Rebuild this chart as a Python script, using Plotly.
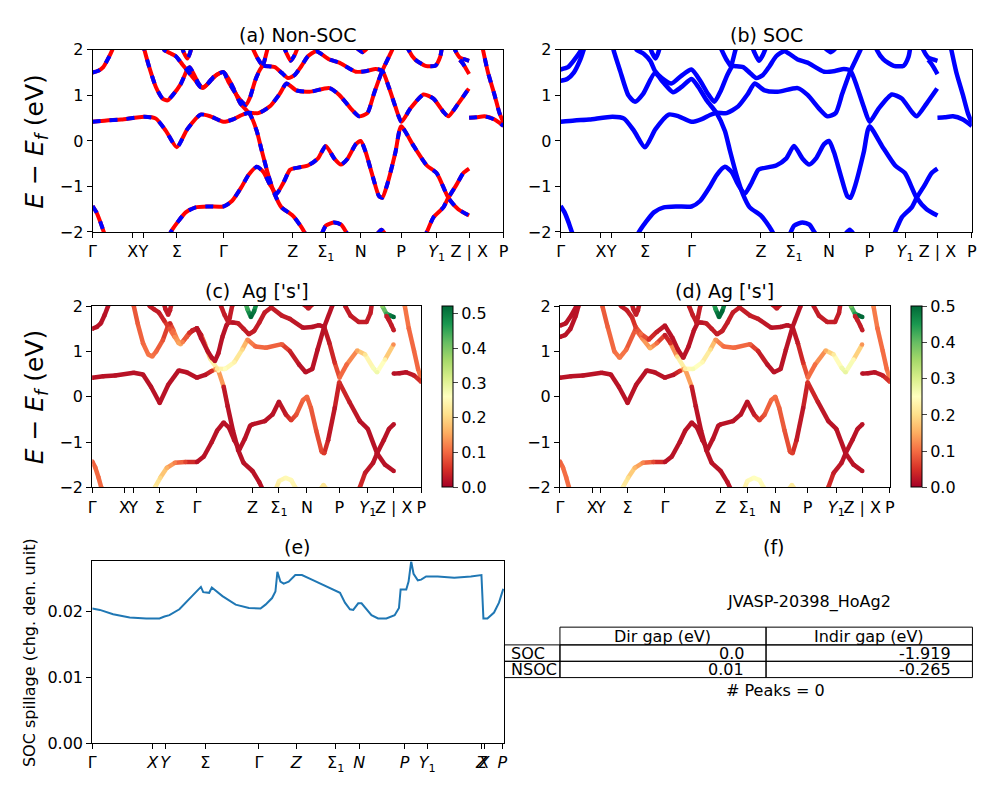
import plotly.graph_objs as go
from plotly.colors import diverging, make_colorscale, sample_colorscale

FONT = "DejaVu Sans"

# k-path position (in % of the path) of the high-symmetry points
kpath_ticks = [0, 9.8, 12.4, 20.5, 31.83, 48.71, 56.75, 65.27, 75.08, 83.76, 91.64, 100]
kpath_labels = ["Γ", "X", "Y", "Σ", "Γ", "Z", "Σ<sub>1</sub>", "N", "P",
                "<i>Y</i><sub>1</sub>", "Z | X", "P"]

# ---- bands (k, E-Ef in eV, Ag-s weight) ----
k_c1 = [0, 1.4, 2.6, 3.8, 4.8, 5.4]
e_c1 = [1.50, 1.54, 1.62, 1.81, 2.00, 2.15]
w_c1 = [0.02, 0.02, 0.02, 0.02, 0.02, 0.02]

k_c1a = [0, 1.8, 3.4, 5.0, 5.5]
e_c1a = [1.57, 1.62, 1.79, 2.00, 2.12]
w_c1a = [0.02, 0.02, 0.02, 0.02, 0.02]

k_c1b = [0, 1.6, 3.2, 4.8, 5.6, 6.0]
e_c1b = [1.32, 1.36, 1.50, 1.79, 2.00, 2.12]
w_c1b = [0.02, 0.02, 0.02, 0.02, 0.02, 0.02]

k_c2 = [12.2, 12.62, 13.83, 15.43, 17.04, 18.25, 19.45, 21.46, 23.07, 23.63, 24.68, 25.88, 26.85, 28.70,
        30.31, 31.83, 33.12, 34.32, 35.93, 38.34, 39.95, 41.16, 42.77, 44.37, 45.98, 48.71, 50.80, 51.77]
e_c2 = [2.15, 2.0, 1.61, 1.18, 0.93, 0.89, 1.0, 1.25, 1.57, 1.62, 1.46, 1.25, 1.16, 1.32,
        1.46, 1.51, 1.36, 1.15, 0.83, 0.58, 0.22, -0.21, -0.75, -1.18, -1.46, -1.64, -1.89, -2.04]
w_c2 = [0.08, 0.08, 0.09, 0.10, 0.11, 0.11, 0.10, 0.08, 0.05, 0.04, 0.10, 0.14, 0.15, 0.08,
        0.03, 0.02, 0.03, 0.14, 0.22, 0.25, 0.03, 0.02, 0.02, 0.02, 0.02, 0.02, 0.02, 0.02]

k_c2s = [12.46, 12.86, 14.47, 16.48, 18.09, 20.10, 22.91, 24.92, 27.33, 29.34, 31.83, 33.52, 35.53,
         37.94, 39.95, 41.16, 42.77, 44.37, 45.98, 48.71, 50.80, 51.77]
e_c2s = [2.18, 2.0, 1.54, 1.0, 0.86, 1.04, 1.49, 1.29, 1.07, 1.18, 1.36, 1.18, 0.89,
         0.61, 0.22, -0.21, -0.75, -1.18, -1.46, -1.64, -1.89, -2.04]
w_c2s = [0.08, 0.08, 0.09, 0.10, 0.11, 0.10, 0.07, 0.12, 0.15, 0.10, 0.03, 0.05, 0.20,
         0.25, 0.03, 0.02, 0.02, 0.02, 0.02, 0.02, 0.02, 0.02]

k_c3 = [17.04, 17.44, 18.81, 20.26, 21.86, 23.47, 25.08, 26.29, 27.49, 29.50, 31.83, 33.12, 35.13, 36.33,
        37.30, 38.34, 39.55, 40.76, 41.40, 42.77, 44.37, 45.98, 47.59, 49.20, 50.80, 52.41, 54.42, 57.64,
        60.05, 64.07, 66.88, 68.89, 70.50, 72.11, 73.71, 75.16, 77.33, 80.55, 82.96, 85.37, 86.58, 88.99, 91.56]
e_c3 = [2.11, 2.0, 1.93, 1.86, 1.68, 1.5, 1.32, 1.18, 1.21, 1.41, 1.51, 1.29, 1.0, 0.86,
        0.79, 0.96, 1.32, 1.57, 1.64, 1.64, 1.62, 1.5, 1.38, 1.45, 1.64, 1.86, 1.97, 1.79,
        1.72, 1.52, 1.54, 1.58, 1.54, 1.18, 0.75, 0.42, 0.71, 1.02, 0.93, 0.64, 0.54, 0.82, 1.15]
w_c3 = [0.03, 0.03, 0.03, 0.03, 0.04, 0.08, 0.13, 0.15, 0.12, 0.05, 0.02, 0.02, 0.02, 0.02,
        0.02, 0.02, 0.02, 0.02, 0.02, 0.02, 0.03, 0.03, 0.03, 0.03, 0.03, 0.03, 0.03, 0.03,
        0.03, 0.02, 0.02, 0.02, 0.02, 0.03, 0.05, 0.10, 0.10, 0.15, 0.22, 0.27, 0.28, 0.24, 0.13]

# SOC: the Sigma-Gamma part of this band splits, the rest follows the band above
k_c3s_head = [17.85, 18.49, 20.26, 21.86, 22.91, 24.52, 26.93, 29.34, 31.83, 34.16, 35.77, 37.38, 38.99, 40.59, 41.80]
e_c3s_head = [2.11, 2.0, 1.91, 1.75, 1.54, 1.39, 1.26, 1.43, 1.57, 1.29, 1.04, 0.86, 1.11, 1.46, 1.64]
w_c3s_head = [0.03, 0.03, 0.03, 0.04, 0.06, 0.10, 0.05, 0.03, 0.02, 0.02, 0.02, 0.02, 0.02, 0.02, 0.02]

k_l1 = [0, 3.38, 6.99, 12.62, 15.43, 17.85, 20.50, 23.07, 26.29, 28.70, 31.83, 34.32, 36.33, 37.94, 40.35,
        43.17, 45.58, 47.19, 49.60, 52.81, 57.64, 60.05, 62.86, 64.87, 66.88, 68.49, 70.50, 72.91, 73.71]
e_l1 = [0.42, 0.45, 0.47, 0.53, 0.49, 0.22, -0.14, 0.26, 0.58, 0.54, 0.42, 0.48, 0.57, 0.62, 0.61,
        0.76, 1.04, 1.26, 1.11, 1.08, 1.16, 1.01, 0.71, 0.54, 0.61, 1.04, 1.54, 2.0, 2.21]
w_l1 = [0.02, 0.02, 0.02, 0.02, 0.02, 0.02, 0.02, 0.02, 0.02, 0.02, 0.02, 0.02, 0.05, 0.22, 0.26,
        0.24, 0.20, 0.13, 0.10, 0.10, 0.09, 0.04, 0.02, 0.02, 0.02, 0.02, 0.02, 0.02, 0.02]

k_j = [18.49, 19.05, 20.66, 22.67, 25.08, 28.30, 31.83, 33.92, 36.33, 37.94, 39.95, 41.56, 43.17, 44.77,
       46.38, 47.99, 48.71, 52.41, 54.82, 56.75, 58.84, 60.45, 62.06, 64.07, 65.27, 66.48, 68.09, 69.69,
       70.50, 71.70, 73.71, 75.08, 78.14, 81.35, 83.76, 86.58, 88.99, 91.64]
e_j = [-2.11, -2.0, -1.79, -1.57, -1.46, -1.44, -1.44, -1.32, -1.0, -0.75, -0.57, -0.68, -0.96, -1.16,
       -0.93, -0.64, -0.61, -0.54, -0.39, -0.11, -0.39, -0.52, -0.39, -0.07, 0.0, -0.25, -0.75, -1.21,
       -1.25, -0.96, -0.25, 0.32, -0.11, -0.54, -0.71, -1.25, -1.5, -1.64]
w_j = [0.24, 0.23, 0.20, 0.16, 0.12, 0.07, 0.02, 0.02, 0.02, 0.02, 0.02, 0.02, 0.02, 0.02,
       0.02, 0.02, 0.02, 0.02, 0.02, 0.02, 0.03, 0.06, 0.08, 0.10, 0.10, 0.09, 0.08, 0.07,
       0.06, 0.03, 0.02, 0.05, 0.03, 0.02, 0.02, 0.02, 0.02, 0.02]

k_m = [0, 0.96, 1.93, 2.73, 3.38]
e_m = [-1.43, -1.57, -1.79, -2.0, -2.14]
w_m = [0.09, 0.10, 0.10, 0.10, 0.10]

k_n = [55.8, 56.8, 58.8, 60.5, 61.7, 62.5]
e_n = [-2.04, -1.86, -1.79, -1.84, -2.0, -2.11]
w_n = [0.22, 0.24, 0.25, 0.25, 0.24, 0.22]

k_o = [69.3, 70.3, 71.2]
e_o = [-2.04, -1.95, -2.04]
w_o = [0.22, 0.22, 0.22]

k_l = [80.55, 81.35, 82.96, 85.37, 86.58, 88.59, 90.19, 91.64]
e_l = [-2.14, -2.0, -1.68, -1.46, -1.25, -0.96, -0.71, -0.61]
w_l = [0.06, 0.05, 0.03, 0.02, 0.02, 0.02, 0.02, 0.02]

k_c4 = [21.54, 22.27, 23.07, 23.63, 24.28]
e_c4 = [2.11, 1.93, 1.81, 1.91, 2.11]
w_c4 = [0.03, 0.03, 0.03, 0.03, 0.03]

k_c5 = [46.38, 47.19, 48.23, 49.20, 50.16]
e_c5 = [2.11, 1.93, 1.76, 1.89, 2.11]
w_c5 = [0.42, 0.45, 0.52, 0.50, 0.45]

k_t1 = [38.34, 39.15, 40.19, 41.40]
e_t1 = [2.18, 2.0, 1.81, 1.64]
w_t1 = [0.03, 0.03, 0.03, 0.03]

k_t2 = [43.17, 42.52, 41.8, 41.4]
e_t2 = [2.18, 2.0, 1.75, 1.64]
w_t2 = [0.03, 0.03, 0.03, 0.03]

k_ntop = [64.3, 65.7, 66.9]
e_ntop = [2.04, 1.95, 2.04]
w_ntop = [0.03, 0.03, 0.03]

k_u = [76.5, 76.9, 78.5, 81.0, 83.4, 84.6, 85.1]
e_u = [2.11, 2.0, 1.79, 1.65, 1.65, 1.85, 2.1]
w_u = [0.03, 0.03, 0.03, 0.03, 0.03, 0.03, 0.03]

k_d = [87.8, 88.2, 89.4, 90.6, 91.64]
e_d = [2.1, 2.0, 1.83, 1.79, 1.76]
w_d = [0.30, 0.38, 0.45, 0.50, 0.52]

k_e = [89.4, 90.2, 91.0, 91.64]
e_e = [1.78, 1.69, 1.57, 1.47]
w_e = [0.03, 0.03, 0.03, 0.03]

k_f = [94.61, 95.02, 96.22, 97.83, 99.04, 100]
e_f = [2.18, 2.0, 1.51, 1.01, 0.61, 0.40]
w_f = [0.12, 0.12, 0.10, 0.10, 0.10, 0.12]

k_g = [91.64, 93.41, 95.42, 97.83, 100]
e_g = [0.51, 0.52, 0.54, 0.47, 0.33]
w_g = [0.02, 0.02, 0.02, 0.03, 0.06]

# ---- SOC spillage ----
spill_ticks = [0, 14.72, 17.7, 27.43, 40.47, 49.56, 59.13, 64.84, 75.86, 81.34, 94.53, 95.17, 99.6]
spill_labels = ["Γ", "<i>X</i>", "<i>Y</i>", "Σ", "Γ", "<i>Z</i>", "Σ<sub>1</sub>", "<i>N</i>", "<i>P</i>",
                "<i>Y</i><sub>1</sub>", "<i>Z</i>", "<i>X</i>", "<i>P</i>"]
k_spill = [0, 1.85, 5.07, 9.09, 13.11, 16.33, 17.54, 18.74, 21.16, 23.57, 25.99, 26.39, 26.95, 27.59,
           28.4, 29.04, 31.62, 34.83, 38.05, 40.87, 42.08, 43.68, 44.49, 44.97, 45.70, 46.5, 47.71,
           49.32, 50.93, 53.34, 56.56, 59.37, 60.18, 61.38, 62.59, 63.39, 64.6, 65.41, 66.61, 67.82,
           69.43, 71.44, 73.45, 74.5, 74.9, 76.27, 76.83, 77.47, 78.04, 79.08, 79.89, 81.09, 83.91,
           87.93, 91.96, 94.53, 95.01, 95.98, 97.59, 98.79, 99.84]
spillage = [0.0205, 0.0203, 0.01965, 0.01916, 0.0190, 0.0190, 0.0193, 0.0195, 0.0204, 0.0219, 0.0234,
            0.0238, 0.0230, 0.0230, 0.0229, 0.0237, 0.0224, 0.0211, 0.0206, 0.0205, 0.0211, 0.0221,
            0.0231, 0.0261, 0.0246, 0.0243, 0.0246, 0.0256, 0.0256, 0.0249, 0.0240, 0.0231, 0.0229,
            0.0214, 0.0204, 0.0203, 0.0213, 0.0213, 0.0204, 0.0195, 0.0190, 0.0190, 0.0195, 0.0206,
            0.0234, 0.0234, 0.0246, 0.02767, 0.0258, 0.0248, 0.0249, 0.0254, 0.0254, 0.0252, 0.0254,
            0.0256, 0.0190, 0.0190, 0.0199, 0.0214, 0.0235]

# ---- gap table ----
material = "JVASP-20398_HoAg2"
gap_cols = ["Dir gap (eV)", "Indir gap (eV)"]
gap_rows = ["SOC", "NSOC"]
dir_gap = ["0.0", "0.01"]
indir_gap = ["-1.919", "-0.265"]
n_peaks = 0

common = [(k_l1, e_l1, w_l1), (k_j, e_j, w_j), (k_m, e_m, w_m), (k_n, e_n, w_n), (k_o, e_o, w_o),
          (k_l, e_l, w_l), (k_c4, e_c4, w_c4), (k_c5, e_c5, w_c5), (k_t1, e_t1, w_t1),
          (k_t2, e_t2, w_t2), (k_ntop, e_ntop, w_ntop), (k_u, e_u, w_u), (k_d, e_d, w_d),
          (k_e, e_e, w_e), (k_f, e_f, w_f), (k_g, e_g, w_g)]
nsoc_bands = [(k_c1, e_c1, w_c1), (k_c2, e_c2, w_c2), (k_c3, e_c3, w_c3)] + common
soc_bands = [(k_c1a, e_c1a, w_c1a), (k_c1b, e_c1b, w_c1b), (k_c2s, e_c2s, w_c2s),
             (k_c3s_head + k_c3[19:], e_c3s_head + e_c3[19:], w_c3s_head + w_c3[19:])] + common

rdylgn = make_colorscale(diverging.RdYlGn)

fig = go.Figure()

# (a) non-SOC: red solid with blue dashes on top
for k, e, w in nsoc_bands:
    fig.add_trace(go.Scatter(x=k, y=e, mode="lines", xaxis="x", yaxis="y", hoverinfo="skip",
                             line=dict(color="red", width=4, shape="spline", smoothing=0.6)))
for k, e, w in nsoc_bands:
    fig.add_trace(go.Scatter(x=k, y=e, mode="lines", xaxis="x", yaxis="y", hoverinfo="skip",
                             line=dict(color="blue", width=4, dash="8px,9px", shape="spline", smoothing=0.6)))

# (b) SOC
for k, e, w in soc_bands:
    fig.add_trace(go.Scatter(x=k, y=e, mode="lines", xaxis="x2", yaxis="y2", hoverinfo="skip",
                             line=dict(color="blue", width=4.5, shape="spline", smoothing=0.6)))


def projected(bands, cmax, xa, ya, cax):
    for k, e, w in bands:
        for i in range(len(k) - 1):
            c = sample_colorscale(rdylgn, [min((w[i] + w[i + 1]) / 2 / cmax, 1.0)])[0]
            fig.add_trace(go.Scatter(x=k[i:i + 2], y=e[i:i + 2], mode="lines", xaxis=xa, yaxis=ya,
                                     hoverinfo="skip", line=dict(color=c, width=4.5)))
        fig.add_trace(go.Scatter(x=k, y=e, mode="markers", xaxis=xa, yaxis=ya,
                                 marker=dict(size=4.5, color=w, coloraxis=cax)))


projected(nsoc_bands, 0.52, "x3", "y3", "coloraxis")
projected(soc_bands, 0.5, "x4", "y4", "coloraxis2")

# (e) spillage
fig.add_trace(go.Scatter(x=k_spill, y=spillage, mode="lines", xaxis="x5", yaxis="y5",
                         line=dict(color="#1f77b4", width=2)))

# the page body keeps an 8px margin, so the figure is 16px smaller than the window
# and every position below is given in window pixels
W, H, OFF = 984, 784, 8


def px(v):
    return (v - OFF) / W


def py(v):
    return 1 - (v - OFF) / H


tickfont = dict(family=FONT, size=16, color="black")
base = dict(showline=True, mirror=True, linecolor="black", linewidth=1, ticks="outside",
            ticklen=5, tickwidth=1, tickcolor="black", showgrid=False, zeroline=False,
            tickfont=tickfont)


def kaxis(x0, x1, anchor):
    return dict(base, domain=[px(x0), px(x1)], range=[0, 100], tickmode="array",
                tickvals=kpath_ticks, ticktext=kpath_labels, tickangle=0, anchor=anchor)


def eaxis(y0, y1, anchor):
    return dict(base, domain=[py(y1), py(y0)], range=[-2, 2], tickmode="array",
                tickvals=[-2, -1, 0, 1, 2], anchor=anchor)


def cbar(x0):
    return dict(x=px(x0), xanchor="left", y=py(490), yanchor="bottom", len=186 / H,
                lenmode="fraction", thickness=11, thicknessmode="pixels", outlinewidth=1,
                outlinecolor="black", ticks="outside", ticklen=5, tickwidth=1,
                tickvals=[0, 0.1, 0.2, 0.3, 0.4, 0.5], tickformat=".1f", tickfont=tickfont,
                xpad=0, ypad=0)


annotations = []


def text(s, x, y, size=16, xanchor="center", **kw):
    annotations.append(dict(text=s, x=px(x), y=py(y), xref="paper", yref="paper", showarrow=False,
                            xanchor=xanchor, yanchor="middle", borderpad=0,
                            font=dict(family=FONT, size=size, color="black"), **kw))


text("(a) Non-SOC", 296.6, 26, 19)
text("(b) SOC", 769, 26, 19)
text("(c) \u00a0Ag ['s']", 255, 289, 19)
text("(d) Ag ['s']", 727.5, 289, 19)
text("(e)", 296, 551, 19)
text("(f)", 777, 551, 19)
ylab = "<i>E</i> − <i>E</i><sub><i>f</i></sub> (eV)"
text(ylab, 32, 135, 25, textangle=-90)
text(ylab, 32, 397, 25, textangle=-90)
text("SOC spillage (chg. den. unit)", 25, 659, 16, textangle=-90)

# table
text(material, 812, 608, 16)
text("# Peaks = %d" % n_peaks, 779, 698, 16)
col_x = [561, 769, 977.3]
row_y = [633.3, 651.5, 668.3, 685]
shapes = []
for c in range(2):
    shapes.append(dict(type="rect", xref="paper", yref="paper", x0=px(col_x[c]), x1=px(col_x[c + 1]),
                       y0=py(row_y[1]), y1=py(row_y[0]), line=dict(color="black", width=1)))
    text(gap_cols[c], (col_x[c] + col_x[c + 1]) / 2, (row_y[0] + row_y[1]) / 2, 16)
values = [dir_gap, indir_gap]
for r in range(2):
    y0, y1 = row_y[r + 1], row_y[r + 2]
    shapes.append(dict(type="rect", xref="paper", yref="paper", x0=px(505), x1=px(561),
                       y0=py(y1), y1=py(y0), line=dict(color="black", width=1)))
    text(gap_rows[r], 510.6, (y0 + y1) / 2, 16, xanchor="left")
    for c in range(2):
        shapes.append(dict(type="rect", xref="paper", yref="paper", x0=px(col_x[c]), x1=px(col_x[c + 1]),
                           y0=py(y1), y1=py(y0), line=dict(color="black", width=1)))
        right = col_x[c + 1] - 0.1 * (col_x[c + 1] - col_x[c])
        text(values[c][r], right, (y0 + y1) / 2, 16, xanchor="right")

fig.update_layout(
    width=W, height=H, margin=dict(l=0, r=0, t=0, b=0, pad=0),
    paper_bgcolor="white", plot_bgcolor="white", showlegend=False,
    font=dict(family=FONT, color="black"),
    xaxis=kaxis(89.3, 504, "y"), yaxis=eaxis(41.7, 228.3, "x"),
    xaxis2=kaxis(561.7, 976.7, "y2"), yaxis2=eaxis(41.7, 228.3, "x2"),
    xaxis3=kaxis(89, 421, "y3"), yaxis3=eaxis(304.3, 490, "x3"),
    xaxis4=kaxis(561, 894, "y4"), yaxis4=eaxis(304.3, 490, "x4"),
    xaxis5=dict(base, domain=[px(89), px(504.5)], range=[0, 100], tickmode="array",
                tickvals=spill_ticks, ticktext=spill_labels, tickangle=0, anchor="y5"),
    yaxis5=dict(base, domain=[py(752.3), py(566)], range=[0, 0.02767], tickmode="array",
                tickvals=[0, 0.01, 0.02], tickformat=".2f", anchor="x5"),
    coloraxis=dict(colorscale=rdylgn, cmin=0, cmax=0.52, colorbar=cbar(442)),
    coloraxis2=dict(colorscale=rdylgn, cmin=0, cmax=0.5, colorbar=cbar(915)),
    annotations=annotations, shapes=shapes,
)

fig.write_html("out.html", config={"displayModeBar": False})
